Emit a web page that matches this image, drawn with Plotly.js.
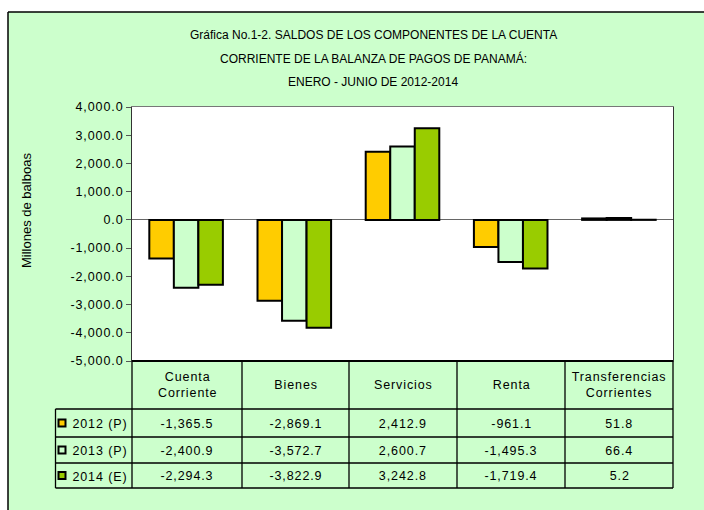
<!DOCTYPE html>
<html>
<head>
<meta charset="utf-8">
<script src="https://cdn.plot.ly/plotly-3.0.1.min.js"></script>
<style>
html,body{margin:0;padding:0;background:#fff;}
#chart{width:704px;height:510px;}
#chart .ytick text{letter-spacing:0.9px;}
</style>
</head>
<body>
<div id="chart"></div>
<script>
// ---- data ----
var categories = ["Cuenta Corriente", "Bienes", "Servicios", "Renta", "Transferencias Corrientes"];
var headerLabels = ["Cuenta<br>Corriente", "Bienes", "Servicios", "Renta", "Transferencias<br>Corrientes"];
var seriesNames = ["2012 (P)", "2013 (P)", "2014 (E)"];
var values2012 = [-1365.5, -2869.1, 2412.9, -961.1, 51.8];
var values2013 = [-2400.9, -3572.7, 2600.7, -1495.3, 66.4];
var values2014 = [-2294.3, -3822.9, 3242.8, -1719.4, 5.2];
var yTickVals = [4000, 3000, 2000, 1000, 0, -1000, -2000, -3000, -4000, -5000];
var titleLines = ["Gráfica No.1-2. SALDOS DE LOS COMPONENTES DE LA CUENTA",
                  "CORRIENTE DE LA BALANZA DE PAGOS DE PANAMÁ:",
                  "ENERO - JUNIO DE 2012-2014"];
var yTitle = "Millones de balboas";

// ---- styles ----
var colors = ["#FFCC00", "#CCFFCC", "#99CC00"];
var bg = "#CCFFCC";
var FONT = "Liberation Sans, Arial, sans-serif";
var W = 704, H = 510;
var L = 132, R = 673, T = 107, B = 361;
function px(x) { return (x - L) / (R - L); }
function py(y) { return (B - y) / (B - T); }
function fmt(v) {
  return v.toLocaleString("en-US", {minimumFractionDigits: 1, maximumFractionDigits: 1});
}

var allValues = [values2012, values2013, values2014];
var traces = allValues.map(function (vals, i) {
  return {
    type: "bar",
    name: seriesNames[i],
    x: categories,
    y: vals,
    marker: {color: colors[i], line: {color: "#000", width: 2}},
    hoverinfo: "none"
  };
});

var shapes = [];
var annotations = [];
var spacedIdx = [];

// outer frame: white strips on top/left, black border
shapes.push({type: "rect", xref: "paper", yref: "paper", x0: px(0), x1: px(W), y0: py(0), y1: py(12), fillcolor: "#fff", line: {width: 0}, layer: "below"});
shapes.push({type: "rect", xref: "paper", yref: "paper", x0: px(0), x1: px(8), y0: py(0), y1: py(H), fillcolor: "#fff", line: {width: 0}, layer: "below"});
shapes.push({type: "line", xref: "paper", yref: "paper", x0: px(8), x1: px(W), y0: py(12), y1: py(12), line: {color: "#000", width: 1.5}});
shapes.push({type: "line", xref: "paper", yref: "paper", x0: px(8), x1: px(8), y0: py(12), y1: py(H), line: {color: "#000", width: 1.5}});

// table geometry
var colEdges = [L, 242, 349, 457, 565, R];
var legendLeft = 55.5;
var rowEdges = [B, 409, 437, 463, 488];
var tline = {color: "#000", width: 1.3};
shapes.push({type: "line", xref: "paper", yref: "paper", x0: px(L), x1: px(R), y0: py(B), y1: py(B), line: {color: "#000", width: 2}});
for (var r = 1; r < rowEdges.length; r++) {
  shapes.push({type: "line", xref: "paper", yref: "paper", x0: px(legendLeft), x1: px(R), y0: py(rowEdges[r]), y1: py(rowEdges[r]), line: tline});
}
colEdges.forEach(function (cx) {
  shapes.push({type: "line", xref: "paper", yref: "paper", x0: px(cx), x1: px(cx), y0: py(B), y1: py(rowEdges[4]), line: tline});
});
shapes.push({type: "line", xref: "paper", yref: "paper", x0: px(legendLeft), x1: px(legendLeft), y0: py(rowEdges[1]), y1: py(rowEdges[4]), line: tline});

function addAnn(a, spaced) {
  if (spaced) spacedIdx.push(annotations.length);
  annotations.push(a);
}

// header texts
headerLabels.forEach(function (lab, c) {
  addAnn({xref: "paper", yref: "paper", x: px((colEdges[c] + colEdges[c + 1]) / 2), y: py((rowEdges[0] + rowEdges[1]) / 2),
    text: lab, showarrow: false, xanchor: "center", yanchor: "middle", font: {family: FONT, size: 12.5, color: "#000"}}, true);
});
// rows
allValues.forEach(function (vals, i) {
  var yc = (rowEdges[i + 1] + rowEdges[i + 2]) / 2;
  shapes.push({type: "rect", xref: "paper", yref: "paper", x0: px(58.5), x1: px(65.5), y0: py(yc - 3.5), y1: py(yc + 3.5),
    fillcolor: colors[i], line: {color: "#000", width: 2}});
  addAnn({xref: "paper", yref: "paper", x: px(74), y: py(yc + 1), text: seriesNames[i], showarrow: false,
    xanchor: "left", yanchor: "middle", font: {family: FONT, size: 12.5, color: "#000"}}, true);
  vals.forEach(function (v, c) {
    addAnn({xref: "paper", yref: "paper", x: px((colEdges[c] + colEdges[c + 1]) / 2), y: py(yc + 0.5),
      text: fmt(v), showarrow: false, xanchor: "center", yanchor: "middle", font: {family: FONT, size: 12.5, color: "#000"}}, true);
  });
});

// title lines
var titleY = [35, 58.5, 82];
titleLines.forEach(function (t, i) {
  addAnn({xref: "paper", yref: "paper", x: px(373), y: py(titleY[i]), text: t, showarrow: false,
    xanchor: "center", yanchor: "middle", font: {family: FONT, size: 12, color: "#000"}}, false);
});
// y title
addAnn({xref: "paper", yref: "paper", x: px(26), y: py(211), text: yTitle, showarrow: false, textangle: -90,
  xanchor: "center", yanchor: "middle", font: {family: FONT, size: 13, color: "#000"}}, false);

var layout = {
  width: W, height: H,
  margin: {l: L, r: W - R, t: T, b: H - B, pad: 0},
  paper_bgcolor: bg,
  plot_bgcolor: "#fff",
  showlegend: false,
  barmode: "group",
  bargap: 0.32,
  bargroupgap: 0,
  font: {family: FONT, size: 12, color: "#000"},
  xaxis: {type: "category", showticklabels: false, ticks: "", showgrid: false, zeroline: false,
    showline: true, mirror: true, linecolor: "#777", linewidth: 1, fixedrange: true},
  yaxis: {range: [-5000, 4000], tickvals: yTickVals, ticktext: yTickVals.map(fmt), ticks: "outside", ticklen: 5,
    tickcolor: "#555", showgrid: false, zeroline: true, zerolinecolor: "#666", zerolinewidth: 1,
    showline: true, mirror: true, linecolor: "#333", linewidth: 1, tickfont: {family: FONT, size: 12.5, color: "#000"},
    fixedrange: true},
  shapes: shapes,
  annotations: annotations
};

Plotly.newPlot("chart", traces, layout, {displayModeBar: false, staticPlot: true}).then(function (gd) {
  var nodes = gd.querySelectorAll("g.annotation");
  nodes.forEach(function (n) {
    var idx = parseInt(n.getAttribute("data-index"), 10);
    if (spacedIdx.indexOf(idx) >= 0) {
      var t = n.querySelector("text.annotation-text");
      if (t) t.style.letterSpacing = "0.9px";
    }
  });
});
</script>
</body>
</html>
